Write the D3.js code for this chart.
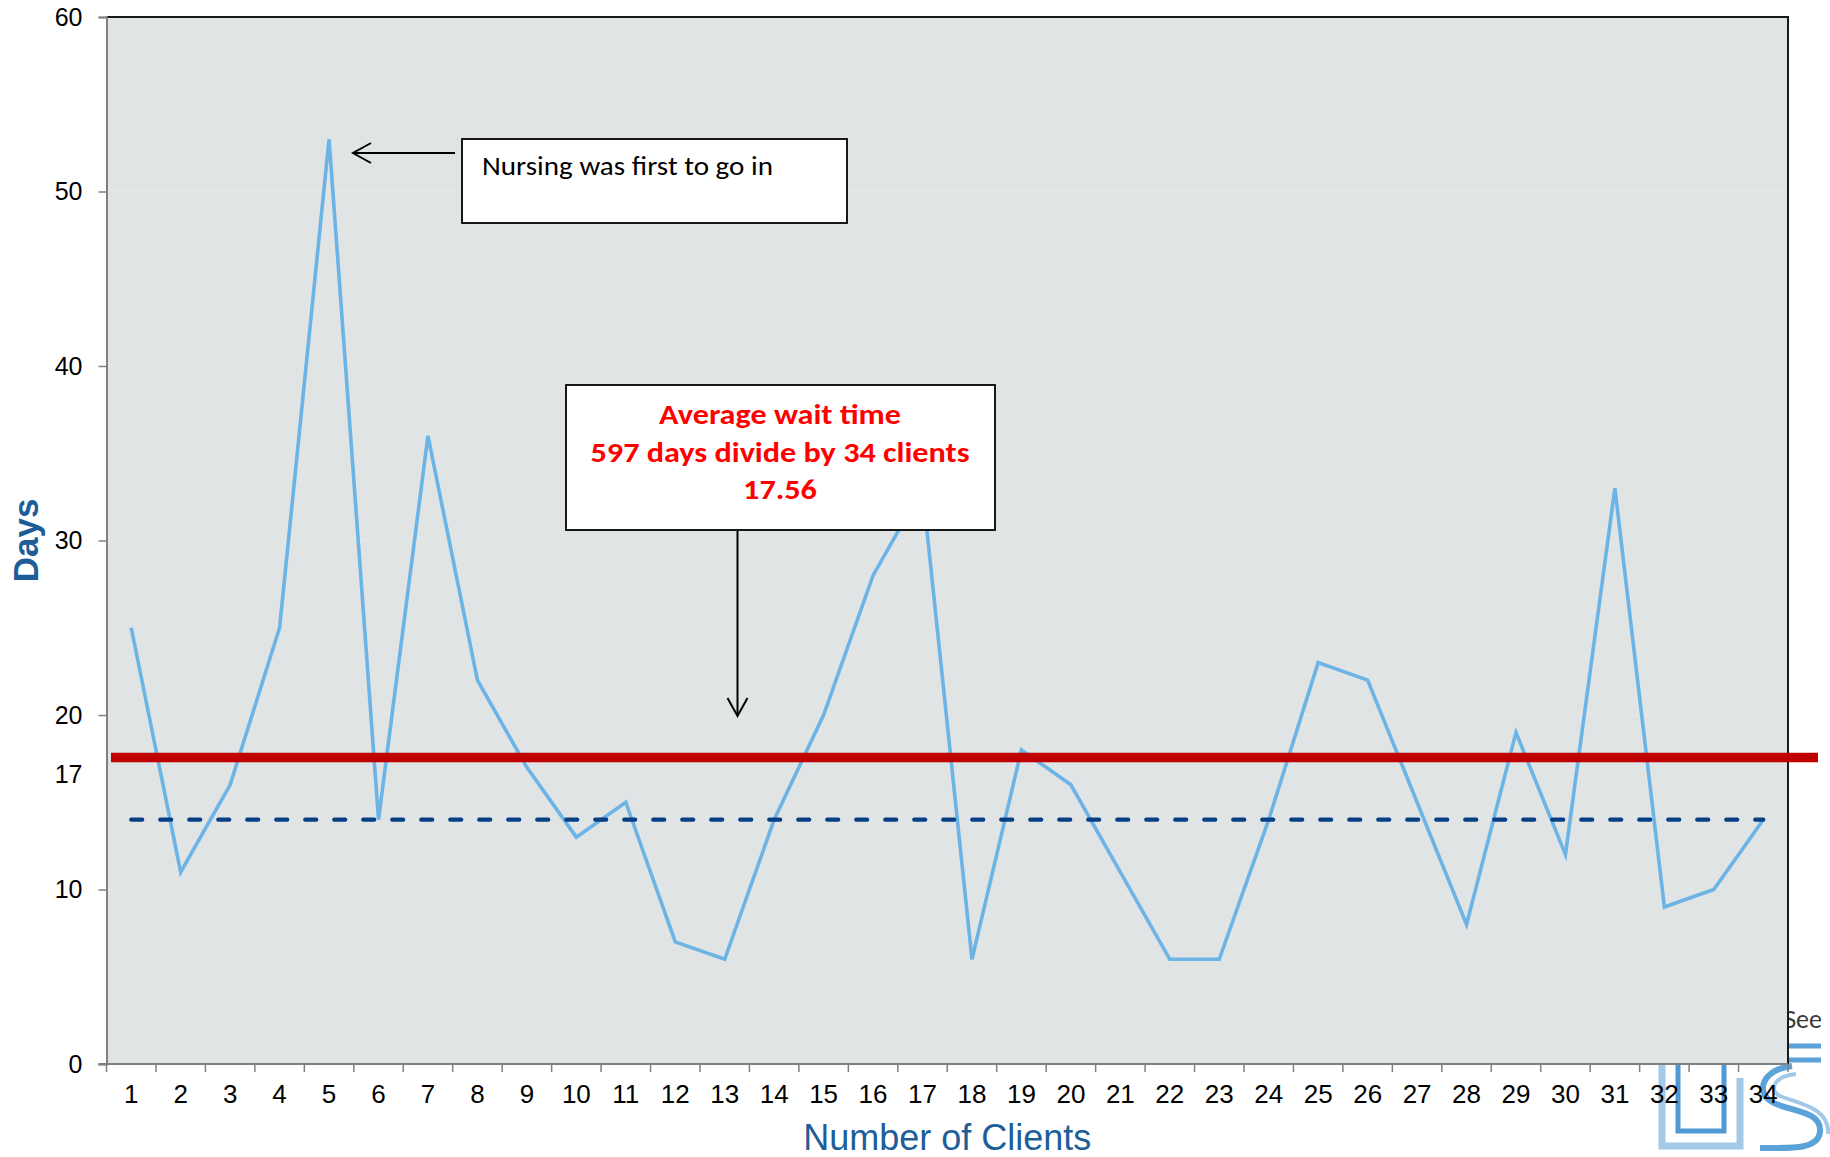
<!DOCTYPE html>
<html>
<head>
<meta charset="utf-8">
<script src="https://cdn.jsdelivr.net/npm/d3@7"></script>
<style>
  html, body { margin: 0; padding: 0; background: #fff; }
  svg { display: block; }
</style>
</head>
<body>
<svg id="chart" width="1830" height="1157"></svg>
<script>
// Client wait times (days until first visit), one value per client
const clients = ["1","2","3","4","5","6","7","8","9","10","11","12","13","14","15","16","17",
                 "18","19","20","21","22","23","24","25","26","27","28","29","30","31","32","33","34"];
const waitDays = [25, 11, 16, 25, 53, 14, 36, 22, 17, 13, 15, 7, 6, 14, 20, 28, 33,
                  6, 18, 16, 11, 6, 6, 14, 23, 22, 15, 8, 19, 12, 33, 9, 10, 14];
const yTickValues = [0, 10, 20, 30, 40, 50, 60];
const gridValues = [10, 20, 30, 40, 50];
const averageWait = 17.56;      // 597 days / 34 clients
const roundedAverage = 17;      // extra axis label
const targetLevel = 14;         // dashed reference level
const peakNote = ["Nursing was first to go in"];
const averageNote = ["Average wait time", "597 days divide by 34 clients", "17.56"];

const svg = d3.select("#chart");
const plot = { left: 106.5, right: 1788, top: 17, bottom: 1064 };

const x = d3.scaleBand().domain(clients).range([plot.left, plot.right]).padding(0);
const cx = d => x(d) + x.bandwidth() / 2;
const y = d3.scaleLinear().domain([0, 60]).range([plot.bottom, plot.top]);

const sans = "'Liberation Sans', Arial, sans-serif";
const calibri = "Carlito, Calibri, Lato, 'Open Sans', sans-serif";

// ---- watermark logo behind the plot (bottom right) ----
const logo = svg.append("g").attr("fill", "none").attr("stroke-linejoin", "miter");
logo.append("text").attr("x", 1822).attr("y", 1028).attr("text-anchor", "end")
  .attr("font-family", calibri).attr("font-size", 26).attr("fill", "#3a3a3a")
  .attr("stroke", "none").text("See");
logo.append("path").attr("d", "M1745,1046 H1821 M1745,1060 H1821")
  .attr("stroke", "#5aa2d8").attr("stroke-width", 5);
logo.append("path").attr("d", "M1662,1050 V1146 H1740 V1078")
  .attr("stroke", "#a3c9e8").attr("stroke-width", 7);
logo.append("path").attr("d", "M1678,1050 V1131 H1724 V1050")
  .attr("stroke", "#4f9ad4").attr("stroke-width", 5);
logo.append("path").attr("d", "M1792,1066 C1762,1070 1755,1092 1772,1102 C1790,1112 1822,1110 1820,1132 C1818,1150 1790,1148 1760,1148")
  .attr("stroke", "#5aa2d8").attr("stroke-width", 6);
logo.append("path").attr("d", "M1796,1074 C1774,1076 1768,1090 1780,1096 C1800,1104 1830,1108 1828,1134")
  .attr("stroke", "#a3c9e8").attr("stroke-width", 4);

// ---- plot area ----
svg.append("rect")
  .attr("x", plot.left).attr("y", plot.top)
  .attr("width", plot.right - plot.left).attr("height", plot.bottom - plot.top)
  .attr("fill", "#e0e4e5");

svg.append("g").selectAll("line").data(gridValues).join("line")
  .attr("x1", plot.left).attr("x2", plot.right)
  .attr("y1", d => y(d)).attr("y2", d => y(d))
  .attr("stroke", "#e3ece3").attr("stroke-width", 1.2);

// frame: dark top/right, grey axes on left/bottom
svg.append("path")
  .attr("d", `M${plot.left},${plot.top} H${plot.right} V${plot.bottom}`)
  .attr("fill", "none").attr("stroke", "#1a1a1a").attr("stroke-width", 2);

// y axis
const yAxis = svg.append("g").attr("transform", `translate(${plot.left},0)`)
  .call(d3.axisLeft(y).tickValues(yTickValues).tickSize(8).tickPadding(16));
yAxis.select(".domain").attr("stroke", "#808080").attr("stroke-width", 2);
yAxis.selectAll(".tick line").attr("stroke", "#808080").attr("stroke-width", 1.5);
yAxis.selectAll(".tick text").attr("font-family", sans).attr("font-size", 25).attr("fill", "#000");
yAxis.append("text")
  .attr("x", -24).attr("y", y(roundedAverage) + 8).attr("dy", "0.32em")
  .attr("text-anchor", "end").attr("font-family", sans).attr("font-size", 25)
  .attr("fill", "#000").text(roundedAverage);

// x axis: labels centred in each band, ticks on band boundaries
const xAxis = svg.append("g").attr("transform", `translate(0,${plot.bottom})`)
  .call(d3.axisBottom(x).tickSize(0).tickPadding(21));
xAxis.select(".domain").remove();
xAxis.selectAll(".tick text").attr("font-family", sans).attr("font-size", 26).attr("fill", "#000");
const bounds = clients.map(d => x(d)).concat([x(clients[clients.length - 1]) + x.bandwidth()]);
svg.append("g").selectAll("line").data(bounds).join("line")
  .attr("x1", d => d).attr("x2", d => d)
  .attr("y1", plot.bottom).attr("y2", plot.bottom + 8)
  .attr("stroke", "#808080").attr("stroke-width", 1.5);
svg.append("line")
  .attr("x1", plot.left - 8).attr("x2", plot.right)
  .attr("y1", plot.bottom).attr("y2", plot.bottom)
  .attr("stroke", "#808080").attr("stroke-width", 2);

// axis titles
svg.append("text")
  .attr("x", (plot.left + plot.right) / 2).attr("y", 1150)
  .attr("text-anchor", "middle").attr("font-family", sans).attr("font-size", 36)
  .attr("fill", "#1d5e98").text("Number of Clients");
svg.append("text")
  .attr("transform", `translate(38,${(plot.top + plot.bottom) / 2}) rotate(-90)`)
  .attr("text-anchor", "middle").attr("font-family", sans).attr("font-size", 35)
  .attr("font-weight", "bold").attr("fill", "#1d5e98").text("Days");

// ---- series ----
const line = d3.line().x((d, i) => cx(clients[i])).y(d => y(d));
svg.append("path").datum(waitDays)
  .attr("d", line)
  .attr("fill", "none").attr("stroke", "#6cb4e6").attr("stroke-width", 3.6)
  .attr("stroke-linejoin", "miter");

// dashed reference level
svg.append("line")
  .attr("x1", cx(clients[0])).attr("x2", cx(clients[clients.length - 1]))
  .attr("y1", y(targetLevel)).attr("y2", y(targetLevel))
  .attr("stroke", "#063f84").attr("stroke-width", 4.2)
  .attr("stroke-dasharray", "11 18").attr("stroke-linecap", "round");

// average line
svg.append("line")
  .attr("x1", 111).attr("x2", 1818)
  .attr("y1", y(averageWait)).attr("y2", y(averageWait))
  .attr("stroke", "#c00000").attr("stroke-width", 9.5);

// ---- annotations ----
function arrowHead(g, tx, ty, dir) {
  // open chevron; dir = "left" or "down"
  const p = dir === "left"
    ? `M${tx + 18},${ty - 10} L${tx},${ty} L${tx + 18},${ty + 10}`
    : `M${tx - 10},${ty - 18} L${tx},${ty} L${tx + 10},${ty - 18}`;
  g.append("path").attr("d", p).attr("fill", "none")
    .attr("stroke", "#000").attr("stroke-width", 2);
}

const ann = svg.append("g");
// note on the peak
ann.append("line").attr("x1", 455).attr("x2", 354).attr("y1", 153).attr("y2", 153)
  .attr("stroke", "#000").attr("stroke-width", 2);
arrowHead(ann, 353, 153, "left");
ann.append("rect").attr("x", 462).attr("y", 139).attr("width", 385).attr("height", 84)
  .attr("fill", "#fff").attr("stroke", "#000").attr("stroke-width", 1.8);
ann.append("text")
  .attr("transform", "translate(482,175) scale(1.12,1)")
  .attr("font-family", calibri).attr("font-size", 26).attr("fill", "#000")
  .text(peakNote[0]);

// note on the average
ann.append("rect").attr("x", 566).attr("y", 385).attr("width", 429).attr("height", 145)
  .attr("fill", "#fff").attr("stroke", "#000").attr("stroke-width", 1.8);
ann.selectAll("text.avg").data(averageNote).join("text").attr("class", "avg")
  .attr("transform", (d, i) => `translate(780,${424 + i * 37.5}) scale(1.15,1)`)
  .attr("text-anchor", "middle").attr("font-family", calibri).attr("font-size", 28)
  .attr("font-weight", "bold").attr("fill", "#ff0000").text(d => d);
ann.append("line").attr("x1", 737.5).attr("x2", 737.5).attr("y1", 531).attr("y2", 715)
  .attr("stroke", "#000").attr("stroke-width", 2);
arrowHead(ann, 737.5, 716, "down");
</script>
</body>
</html>
